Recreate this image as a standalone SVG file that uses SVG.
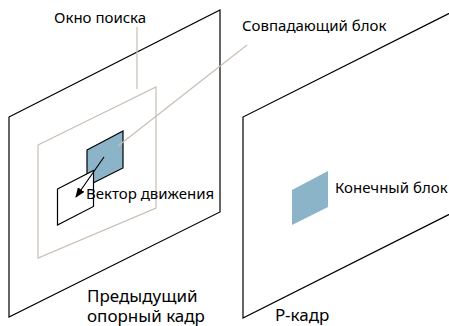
<svg xmlns="http://www.w3.org/2000/svg" width="449" height="326" viewBox="0 0 449 326">
  <defs>
    <style>
      .frame { fill: none; stroke: #000; stroke-width: 1.2; }
      .guide { fill: none; stroke: #c8beb4; stroke-width: 1.2; }
      .blk { fill: #8cb4c8; }
      .edge { stroke: #000; stroke-width: 1.2; }
      .lbl { font-family: "Noto Sans", "Open Sans", sans-serif; font-size: 15px; fill: #000; }
      .big { font-size: 17px; }
    </style>
    <marker id="arrowhead" markerWidth="10" markerHeight="8" refX="9" refY="4" orient="auto" markerUnits="userSpaceOnUse">
      <path d="M0,0 L10,4 L0,8 Z" fill="#000"/>
    </marker>
  </defs>

  <rect width="449" height="326" fill="#fff"/>

  <!-- previous reference frame -->
  <g id="reference-frame">
    <path class="frame" d="M9,117 L220,10 L220,212 L9,317 Z"/>
    <text class="lbl big" x="87" y="302">Предыдущий</text>
    <text class="lbl big" x="87" y="322">опорный кадр</text>
  </g>

  <!-- search window inside the reference frame -->
  <g id="search-window">
    <path class="guide" d="M38,145 L156,87 L156,208 L38,258 Z"/>
    <text class="lbl" x="54" y="23">Окно поиска</text>
  </g>

  <!-- matched block -->
  <g id="matched-block">
    <path class="blk edge" d="M87,150 L123,131 L123,168 L87,186 Z"/>
    <text class="lbl" x="242" y="31">Совпадающий блок</text>
  </g>

  <!-- current block position in the reference frame -->
  <g id="current-position">
    <path d="M57.5,189 L93.5,170.5 L93.5,206.5 L57.5,225 Z" fill="#fff" stroke="#000" stroke-width="1.2"/>
  </g>

  <!-- P-frame -->
  <g id="p-frame">
    <path class="frame" d="M460,8 L243,117 L243,318 L460,209"/>
    <text class="lbl big" x="275" y="321">Р-кадр</text>
  </g>

  <!-- target block in the P-frame -->
  <g id="target-block">
    <path class="blk" d="M292,190 L328,171 L328,207 L292,225 Z"/>
    <text class="lbl" x="335" y="193">Конечный блок</text>
  </g>

  <!-- leader lines and motion vector -->
  <g id="connectors">
    <line class="guide" x1="137" y1="27" x2="137" y2="89"/>
    <line class="guide" x1="118" y1="146" x2="247" y2="45"/>
    <line stroke="#000" stroke-width="1.2" x1="104" y1="157" x2="76" y2="197" marker-end="url(#arrowhead)"/>
    <text class="lbl" x="86" y="199">Вектор движения</text>
  </g>
</svg>
